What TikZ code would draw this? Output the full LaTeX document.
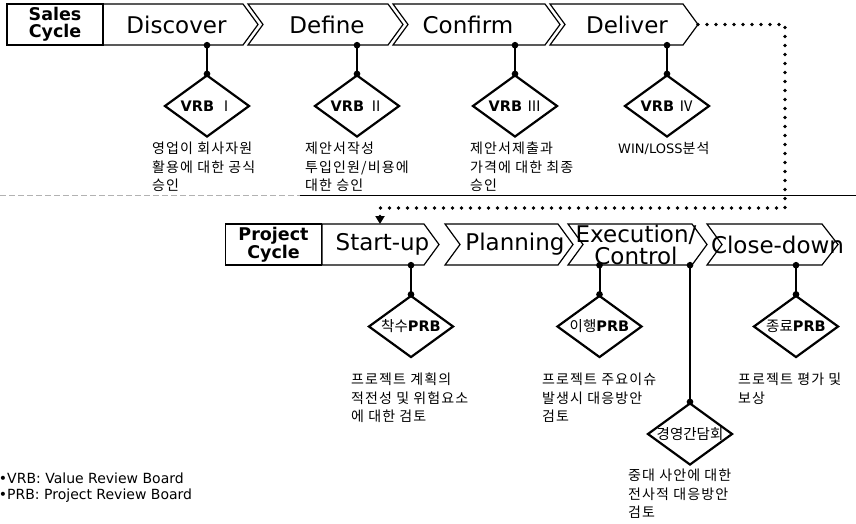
\documentclass[tikz,border=0pt]{standalone}
\usepackage{fontspec}
\setmainfont{DejaVu Sans}
\newfontfamily\kr[LetterSpace=8]{Noto Sans CJK KR}
\newfontfamily\krplain{Noto Sans CJK KR}
\usetikzlibrary{positioning,arrows.meta,shapes.geometric}
\tikzset{
    chev/.style={draw, line width=1.2pt, line join=miter},
    phase/.style={%
        inner sep=0pt,
        minimum height=41pt,
        font=\fontsize{23}{22}\selectfont
        },
    cyclebox/.style={%
        draw, line width=1.2pt,
        minimum width=96pt, minimum height=41pt,
        inner sep=0pt, align=center,
        font=\bfseries\fontsize{17.5}{17}\selectfont
        },
    gate/.style={%
        diamond, draw, line width=2.2pt,
        minimum width=85pt, minimum height=62pt,
        inner sep=0pt,
        font=\fontsize{14.5}{14}\selectfont
        },
    stem/.style={line width=2pt, {Circle[length=6.5pt]}-{Circle[length=6.5pt]},
        shorten <=-3.25pt, shorten >=-3.25pt},
    note/.style={anchor=north west, align=left, inner sep=0pt,
        font=\kr\fontsize{14}{18.5}\selectfont},
    legend/.style={anchor=west, inner sep=0pt, font=\fontsize{14}{18}\selectfont},
    loop link/.style={line width=3.8pt, line cap=round, dash pattern=on 0pt off 9pt,
        -{Triangle[length=8pt,width=9pt]}},
    >=Latex
}

\begin{document}
\begin{tikzpicture}[x=1pt,y=-1pt]
\useasboundingbox (0,0) rectangle (856,523);

% sales cycle
\node[cyclebox] (sales) at (55,24.5) {Sales\\Cycle};
\draw[chev] (103,4) -- (243,4) -- (258,24.5) -- (243,45) -- (103,45) -- cycle;
\draw[chev] (248,4) -- (388,4) -- (403,24.5) -- (388,45) -- (248,45) -- (263,24.5) -- cycle;
\draw[chev] (393,4) -- (545,4) -- (560,24.5) -- (545,45) -- (393,45) -- (408,24.5) -- cycle;
\draw[chev] (550,4) -- (683,4) -- (698,24.5) -- (683,45) -- (550,45) -- (565,24.5) -- cycle;
\coordinate (deliver tip) at (698,24.5);

\node[phase] (discover) at (176.5,24.5) {Discover};
\node[phase] (define) at (327,24.5) {Define};
\node[phase] (confirm) at (468,24.5) {Confirm};
\node[phase] (deliver) at (627,24.5) {Deliver};

\node[gate] (vrb1) at (207,106) {\makebox[0pt]{\textbf{VRB} {\krplain Ⅰ}}};
\node[gate] (vrb2) at (357,106) {\makebox[0pt]{\textbf{VRB} {\krplain Ⅱ}}};
\node[gate] (vrb3) at (515,106) {\makebox[0pt]{\textbf{VRB} {\krplain Ⅲ}}};
\node[gate] (vrb4) at (667,106) {\makebox[0pt]{\textbf{VRB} {\krplain Ⅳ}}};

\draw[stem] (vrb1.north |- discover.south) -- (vrb1.north);
\draw[stem] (vrb2.north |- define.south) -- (vrb2.north);
\draw[stem] (vrb3.north |- confirm.south) -- (vrb3.north);
\draw[stem] (vrb4.north |- deliver.south) -- (vrb4.north);

\node[note] (note1) at (152,142) {영업이 회사자원\\활용에 대한 공식\\승인};
\node[note] (note2) at (305,142) {제안서작성\\투입인원/비용에\\대한 승인};
\node[note] (note3) at (470,142) {제안서제출과\\가격에 대한 최종\\승인};
\node[note] (note4) at (618,142) {{\normalfont\fontsize{13}{18.5}\selectfont WIN/LOSS}분석};

% separator
\draw[gray!60, line width=0.8pt, dash pattern=on 6pt off 3pt] (0,195) -- (300,195);
\draw[line width=0.8pt] (300,195) -- (856,195);

% project cycle
\node[cyclebox] (project) at (273.5,244.5) {Project\\Cycle};
\draw[chev] (322,224) -- (424,224) -- (439,244.5) -- (424,265) -- (322,265) -- cycle;
\draw[chev] (445,224) -- (558,224) -- (573,244.5) -- (558,265) -- (445,265) -- (460,244.5) -- cycle;
\draw[chev] (568,224) -- (692,224) -- (707,244.5) -- (692,265) -- (568,265) -- (583,244.5) -- cycle;
\draw[chev] (707,224) -- (822,224) -- (838,244.5) -- (822,265) -- (707,265) -- (722,244.5) -- cycle;
\coordinate (startup in) at (380,224);

\node[phase] (startup) at (382.5,244.5) {Start-up};
\node[phase] (planning) at (515,244.5) {Planning};
\node[phase, align=center] (execution) at (636,244.5) {Execution/\\Control};
\node[phase] (closedown) at (777.5,244.5) {Close-down};

\draw[loop link] (deliver tip) -- (785,24.5) |- (380,208) -- (startup in);

\node[gate] (kickoff) at (411,326.5) {\makebox[0pt]{{\krplain 착수}\textbf{PRB}}};
\node[gate] (execprb) at (599.5,326.5) {\makebox[0pt]{{\krplain 이행}\textbf{PRB}}};
\node[gate] (closeprb) at (796,326.5) {\makebox[0pt]{{\krplain 종료}\textbf{PRB}}};
\node[gate] (mgmt) at (690,434) {\makebox[0pt]{\krplain 경영간담회}};

\draw[stem] (kickoff.north |- startup.south) -- (kickoff.north);
\draw[stem] (execprb.north |- startup.south) -- (execprb.north);
\draw[stem] (mgmt.north |- startup.south) -- (mgmt.north);
\draw[stem] (closeprb.north |- startup.south) -- (closeprb.north);

\node[note] (note5) at (351,373) {프로젝트 계획의\\적전성 및 위험요소\\에 대한 검토};
\node[note] (note6) at (542,373) {프로젝트 주요이슈\\발생시 대응방안\\검토};
\node[note] (note7) at (738,373) {프로젝트 평가 및\\보상};
\node[note] (note8) at (628,469) {중대 사안에 대한\\전사적 대응방안\\검토};

% legend
\node[legend] (legend1) at (7,478) {\llap{\textbullet}VRB: Value Review Board};
\node[legend] (legend2) at (7,496) {\llap{\textbullet}PRB: Project Review Board};

\end{tikzpicture}
\end{document}
